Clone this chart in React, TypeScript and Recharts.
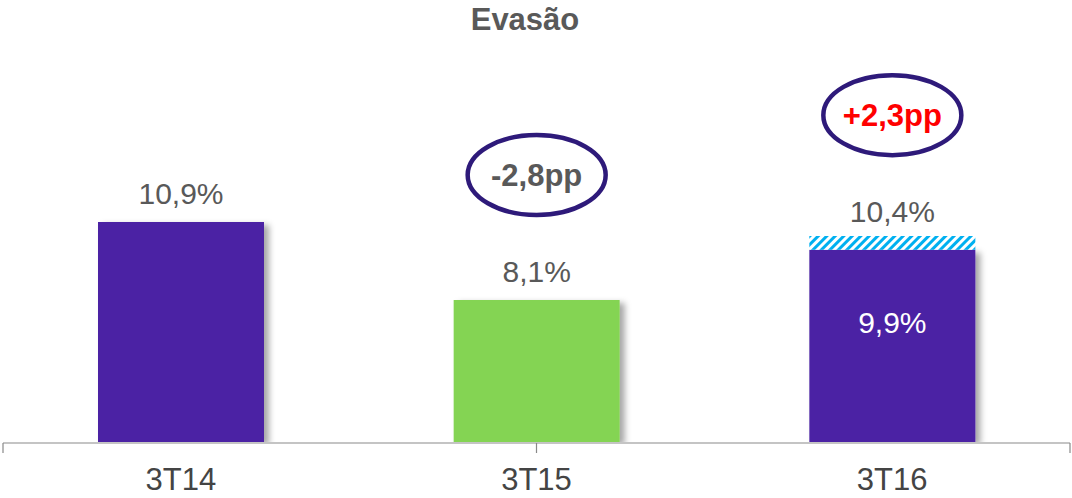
import React from "react";
import { BarChart, Bar, XAxis, YAxis, Cell, LabelList } from "recharts";

const categories = ["3T14", "3T15", "3T16"];
const baseValues = [10.9, 8.1, 9.9];
const extraValues = [0, 0, 0.5];
const totalLabels = ["10,9%", "8,1%", "10,4%"];
const innerLabels = ["", "", "9,9%"];
const annotations = ["", "-2,8pp", "+2,3pp"];
const annotationColors = ["", "#595959", "#ff0000"];
const barColors = ["#4b22a4", "#84d452", "#4b22a4"];

const FONT = "'Liberation Sans', Arial, sans-serif";

const data = categories.map((name, i) => ({
  name,
  base: baseValues[i],
  extra: extraValues[i],
}));

function BarLabels(props: any) {
  const { x, y, width, height, index } = props;
  const cx = x + width / 2;
  // pixels per unit, from the bar's own height (stack starts at 0)
  const k = height / baseValues[index];
  const top = y - extraValues[index] * k;
  const inner = innerLabels[index];
  const note = annotations[index];
  return (
    <g>
      {inner && (
        <text x={cx} y={y + 83} textAnchor="middle" fill="#ffffff" fontSize={30} fontFamily={FONT}>
          {inner}
        </text>
      )}
      <text x={cx} y={top - 18} textAnchor="middle" fill="#595959" fontSize={30} fontFamily={FONT}>
        {totalLabels[index]}
      </text>
      {note && (
        <g>
          <ellipse cx={cx} cy={top - 125} rx={69} ry={40} fill="#ffffff" stroke="#2e1a7a" strokeWidth={4.5} />
          <text
            x={cx}
            y={top - 114}
            textAnchor="middle"
            fill={annotationColors[index]}
            fontSize={31}
            fontWeight="bold"
            fontFamily={FONT}
          >
            {note}
          </text>
        </g>
      )}
    </g>
  );
}

function CategoryTick(props: any) {
  const { x, y, payload } = props;
  return (
    <text x={x} y={y + 48} textAnchor="middle" fill="#444444" fontSize={31} fontFamily={FONT}>
      {payload.value}
    </text>
  );
}

export default function App() {
  return (
    <div style={{ position: "absolute", left: 0, top: 0, width: 1072, height: 498, background: "#fff" }}>
      <div
        style={{
          position: "absolute",
          left: 425,
          top: 0,
          width: 200,
          textAlign: "center",
          fontFamily: FONT,
          fontWeight: "bold",
          fontSize: 31,
          lineHeight: "40px",
          color: "#595959",
          zIndex: 2,
        }}
      >
        Evasão
      </div>
      <BarChart width={1072} height={498} data={data} margin={{ top: 2, right: 2, bottom: 0, left: 3 }} barSize={166}>
        <defs>
          <pattern id="hatch" width={6} height={6} patternUnits="userSpaceOnUse" patternTransform="rotate(45)">
            <rect width={6} height={6} fill="#ffffff" />
            <rect width={3} height={6} fill="#00b0f0" />
          </pattern>
          <filter id="shadow" x="-10%" y="-10%" width="130%" height="130%">
            <feDropShadow dx={5} dy={3} stdDeviation={3} floodColor="#000000" floodOpacity={0.35} />
          </filter>
        </defs>
        <XAxis
          dataKey="name"
          axisLine={false}
          tickLine={false}
          tickSize={0}
          tickMargin={0}
          height={1}
          interval={0}
          tick={<CategoryTick />}
        />
        <XAxis
          xAxisId="grid"
          type="number"
          domain={[0, 3]}
          ticks={[0, 1, 2, 3]}
          interval={0}
          allowDataOverflow
          tick={() => <g />}
          tickSize={10}
          height={55}
          axisLine={{ stroke: "#898989", strokeWidth: 1.2 }}
          tickLine={{ stroke: "#898989", strokeWidth: 1.2 }}
        />
        <YAxis hide domain={[3, 18.8]} allowDataOverflow />
        <Bar dataKey="base" stackId="a" isAnimationActive={false}>
          {data.map((_, i) => (
            <Cell key={i} fill={barColors[i]} filter="url(#shadow)" />
          ))}
          <LabelList dataKey="base" content={<BarLabels />} />
        </Bar>
        <Bar dataKey="extra" stackId="a" fill="url(#hatch)" isAnimationActive={false} />
      </BarChart>
    </div>
  );
}
